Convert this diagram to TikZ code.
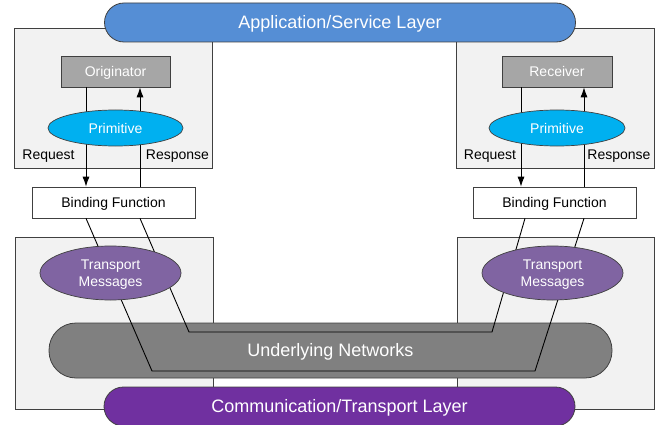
\documentclass[tikz,border=0pt]{standalone}
\usepackage{fontspec}
\setmainfont{Liberation Sans}
\usetikzlibrary{shapes.geometric,arrows.meta}
\definecolor{appblue}{HTML}{558ED5}
\definecolor{commpurple}{HTML}{7030A0}
\definecolor{netgray}{HTML}{808080}
\definecolor{tmpurple}{HTML}{8064A2}
\definecolor{primcyan}{HTML}{00B0F0}
\definecolor{origgray}{HTML}{A6A6A6}
\definecolor{panelgray}{HTML}{F2F2F2}
\definecolor{edge}{HTML}{404040}
\tikzset{
  txt/.style={font=\fontsize{14}{17}\selectfont,text height=10pt,text depth=0pt},
  panel/.style={draw=edge,fill=panelgray,line width=0.7pt,inner sep=0pt},
  pill/.style={draw=edge,line width=0.8pt,text=white,inner sep=0pt,
    font=\fontsize{18}{21}\selectfont,text height=12.9pt,text depth=0pt},
  actor/.style={txt,draw=edge,fill=origgray,line width=0.7pt,text=white,inner sep=0pt,
    minimum height=31pt},
  prim/.style={txt,ellipse,draw=edge,fill=primcyan,line width=0.7pt,text=white,inner sep=0pt,
    minimum width=135pt,minimum height=36pt},
  tmsg/.style={font=\fontsize{14}{17}\selectfont,ellipse,draw=edge,fill=tmpurple,line width=0.7pt,
    text=white,inner sep=0pt,minimum width=141pt,minimum height=54pt,align=center},
  bindbox/.style={txt,draw=edge,fill=white,line width=0.7pt,inner sep=0pt,
    minimum width=163pt,minimum height=31pt},
  lbl/.style={txt,inner sep=0pt},
  wire/.style={draw=black,line width=0.9pt},
  arr/.style={draw=black,line width=0.9pt,-{Latex[length=10pt,width=7pt]}}
}
\begin{document}
\begin{tikzpicture}[x=1pt,y=-1pt]
\useasboundingbox (0,0) rectangle (663,425);
% panels
\node[panel,minimum width=198pt,minimum height=140pt] (ulp) at (113,98) {};
\node[panel,minimum width=198pt,minimum height=140pt] (urp) at (555,98) {};
\node[panel,minimum width=198pt,minimum height=172pt] (llp) at (114,323) {};
\node[panel,minimum width=197pt,minimum height=172pt] (lrp) at (555.5,323) {};
% layers
\node[pill,fill=appblue,minimum width=471pt,minimum height=39pt,rounded corners=19.5pt] (app) at (340,22.5) {Application/Service Layer};
\node[pill,fill=commpurple,minimum width=471pt,minimum height=39pt,rounded corners=19.5pt] (comm) at (339.5,406.5) {Communication/Transport Layer};
\node[pill,fill=netgray,minimum width=563pt,minimum height=55pt,rounded corners=27pt] (net) at (330.5,350.5) {Underlying Networks};
% binding boxes
\node[bindbox] (bind1) at (113.5,202.5) {Binding Function};
\node[bindbox] (bind2) at (554.5,202.5) {Binding Function};
% wires
\coordinate (a1) at (152,371);
\coordinate (a2) at (535,371);
\coordinate (b1) at (189,332);
\coordinate (b2) at (492,332);
\draw[wire] ([xshift=-27.5pt]bind1.south) -- (a1) -- (a2) -- ([xshift=29.5pt]bind2.south);
\draw[wire] ([xshift=26.5pt]bind1.south) -- (b1) -- (b2) -- ([xshift=-29.5pt]bind2.south);
% transport ellipses
\node[tmsg] (tm1) at (110.5,273) {\rule{0pt}{12.7pt}Transport\\Messages};
\node[tmsg] (tm2) at (552.5,273) {\rule{0pt}{12.7pt}Transport\\Messages};
% actors
\node[actor,minimum width=109pt] (orig) at (115.5,71.5) {Originator};
\node[actor,minimum width=110pt] (recv) at (557,71.5) {Receiver};
% arrows
\draw[arr] ([xshift=-29.5pt]orig.south) -- ([xshift=-27.5pt]bind1.north);
\draw[arr] ([xshift=26.5pt]bind1.north) -- ([xshift=24.5pt]orig.south);
\draw[arr] ([xshift=-36pt]recv.south) -- ([xshift=-33.5pt]bind2.north);
\draw[arr] ([xshift=29.5pt]bind2.north) -- ([xshift=27pt]recv.south);
% primitives
\node[prim] (prim1) at (115.5,128) {Primitive};
\node[prim,minimum width=136pt] (prim2) at (557,128) {Primitive};
% labels
\node[lbl] (req1) at (48.5,154.3) {Request};
\node[lbl] (res1) at (177.5,154.3) {Response};
\node[lbl] (req2) at (490,154.3) {Request};
\node[lbl] (res2) at (619,154.3) {Response};
\end{tikzpicture}
\end{document}
